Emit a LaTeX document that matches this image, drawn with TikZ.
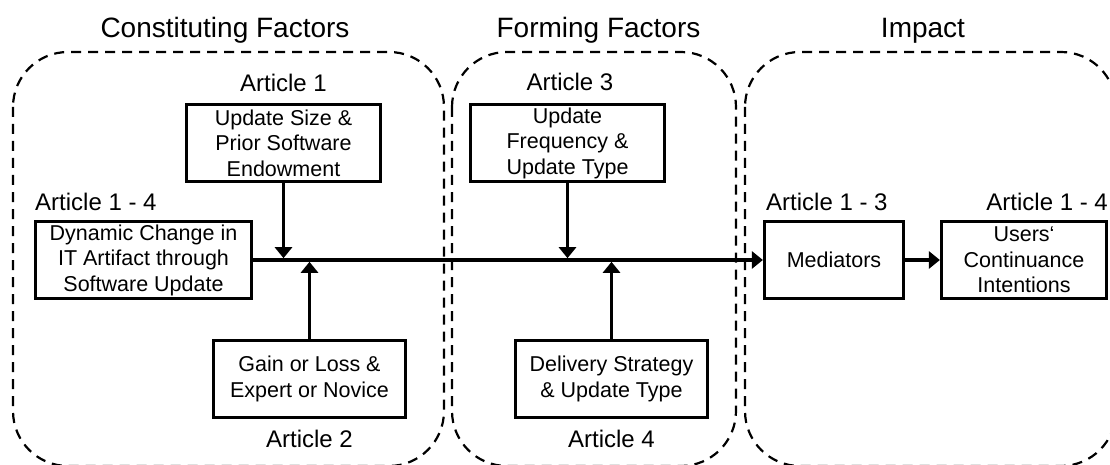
\documentclass[tikz,border=0pt]{standalone}
\usepackage{fontspec}
\setmainfont{Liberation Sans}
\usetikzlibrary{arrows.meta}
\begin{document}
\begin{tikzpicture}[x=1pt,y=-1pt,
  group/.style={draw, line width=2.2pt, dash pattern=on 10pt off 7pt, rounded corners=55pt},
  title/.style={font=\fontsize{28}{32}\selectfont, inner sep=0pt},
  artlabel/.style={font=\fontsize{24}{28}\selectfont, inner sep=0pt},
  factor/.style={draw, line width=3.2pt, align=center, inner sep=0pt,
    minimum height=77pt, font=\fontsize{21.5}{25.5}\selectfont},
  conn/.style={line width=3.6pt, -{Triangle[length=11pt,width=17pt]}}]
\useasboundingbox (0,0) rectangle (1110,465);
\clip (0,0) rectangle (1110,465);

% dashed groupings
\draw[group] (13,52) rectangle (444,466);
\draw[group] (452,52) rectangle (736,466);
\draw[group] (745,52) rectangle (1116,466);

% group titles
\node[title, anchor=base] (tconst) at (225,37.5) {Constituting Factors};
\node[title, anchor=base] (tform) at (598.5,37.5) {Forming Factors};
\node[title, anchor=base] (timp) at (923,37.5) {Impact};

% factor boxes
\node[factor, minimum width=194pt] (a1) at (283.5,143) {Update Size \&\\Prior Software\\Endowment};
\node[factor, minimum width=216pt] (dyn) at (143.5,260) {Dynamic Change in\\IT Artifact through\\Software Update};
\node[factor, minimum width=192pt] (a2) at (309.5,379) {Gain or Loss \&\\Expert or Novice};
\node[factor, minimum width=194pt] (a3) at (567.5,143) {Update\\Frequency \&\\Update Type};
\node[factor, minimum width=192pt] (a4) at (611.5,379) {Delivery Strategy\\\& Update Type};
\node[factor, minimum width=139pt] (med) at (834,260) {Mediators};
\node[factor, minimum width=165pt] (usr) at (1024,260) {Users‘\\Continuance\\Intentions};

% article labels
\node[artlabel, anchor=base] (l1) at (283.5,92) {Article 1};
\node[artlabel, anchor=base west] (l14a) at (35,210) {Article 1 - 4};
\node[artlabel, anchor=base] (l2) at (309.5,447) {Article 2};
\node[artlabel, anchor=base] (l3) at (570,91) {Article 3};
\node[artlabel, anchor=base] (l4) at (611.5,447) {Article 4};
\node[artlabel, anchor=base west] (l13) at (766,210) {Article 1 - 3};
\node[artlabel, anchor=base east] (l14b) at (1108,210) {Article 1 - 4};

% connectors
\draw[conn] (dyn.east) -- (med.west);
\draw[conn] (med.east) -- (usr.west);
\draw[conn, shorten >=1.8pt] (a1.south) -- (a1.south |- dyn.east);
\draw[conn, shorten >=1.8pt] (a2.north) -- (a2.north |- dyn.east);
\draw[conn, shorten >=1.8pt] (a3.south) -- (a3.south |- dyn.east);
\draw[conn, shorten >=1.8pt] (a4.north) -- (a4.north |- dyn.east);
\end{tikzpicture}
\end{document}
